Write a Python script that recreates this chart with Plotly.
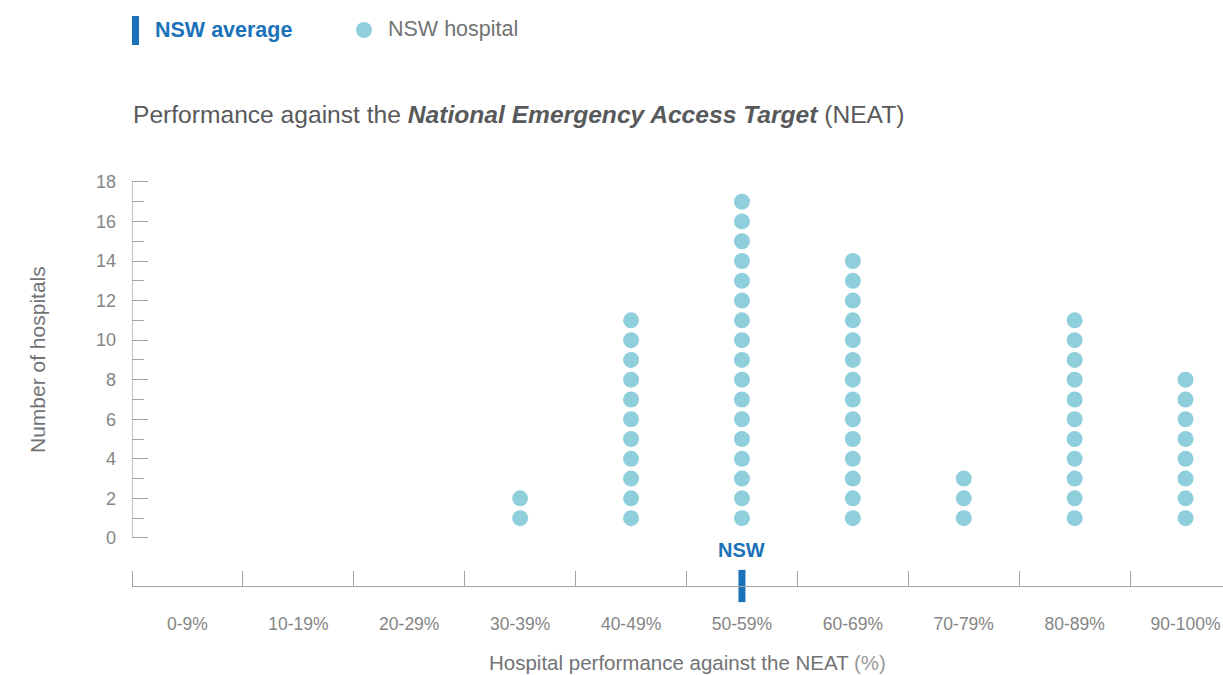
import plotly.graph_objects as go

# ---- data ----
bins = ["0-9%", "10-19%", "20-29%", "30-39%", "40-49%", "50-59%",
        "60-69%", "70-79%", "80-89%", "90-100%"]
hospital_counts = [0, 0, 0, 2, 11, 17, 14, 3, 11, 8]
nsw_average_bin = "50-59%"
y_ticks = [0, 2, 4, 6, 8, 10, 12, 14, 16, 18]

# ---- style ----
FONT = "Liberation Sans, Arial, Helvetica, sans-serif"
GRAY_TXT = "#727375"
TICK_TXT = "#858585"
AXIS = "#a3a3a3"
DOT = "#8fcfdc"
BLUE = "#1b72b8"

W, H = 1223, 675
L, R, T, B = 132, 0, 172, 89
pw, ph = W - L - R, H - T - B


def px(x):
    return (x - L) / pw


def py(y):
    return (H - B - y) / ph


# expand data to dots
xs, ys = [], []
for i, c in enumerate(hospital_counts):
    for k in range(1, c + 1):
        xs.append(i)
        ys.append(k)

y_bottom = -2.43
fig = go.Figure()
fig.add_trace(go.Scatter(
    x=xs, y=ys, mode="markers",
    marker=dict(size=16, color=DOT, line=dict(width=0)),
    name="NSW hospital", showlegend=False, hoverinfo="skip"))

avg_x = bins.index(nsw_average_bin)
fig.add_trace(go.Scatter(
    x=[avg_x], y=[y_bottom], mode="markers", cliponaxis=False,
    marker=dict(symbol="line-ns", size=23, line=dict(width=7, color=BLUE)),
    name="NSW average", showlegend=False, hoverinfo="skip"))

# y-axis line (0..18)
fig.add_shape(type="line", xref="x", yref="y", x0=-0.5, x1=-0.5, y0=0, y1=18,
              line=dict(color=AXIS, width=1.3))

fig.update_xaxes(
    range=[-0.5, -0.5 + pw / 110.9],
    tickmode="array", tickvals=list(range(len(bins))), ticktext=bins,
    ticks="", showgrid=False, zeroline=False,
    showline=True, linecolor=AXIS, linewidth=1.3,
    tickfont=dict(family=FONT, size=17.5, color=TICK_TXT),
    ticklabelstandoff=22,
    minor=dict(tickmode="array", tickvals=[i + 0.5 for i in range(-1, 9)],
               ticks="inside", ticklen=15, tickcolor=AXIS, tickwidth=1.3,
               showgrid=False),
)
fig.update_yaxes(
    range=[y_bottom, 18.5],
    tickmode="array", tickvals=y_ticks, ticktext=[str(v) for v in y_ticks],
    ticks="inside", ticklen=16, tickcolor=AXIS, tickwidth=1.3,
    showgrid=False, zeroline=False, showline=False,
    tickfont=dict(family=FONT, size=18, color=TICK_TXT),
    ticklabelstandoff=15,
    minor=dict(tickmode="array", tickvals=list(range(1, 18, 2)),
               ticks="inside", ticklen=12, tickcolor=AXIS, tickwidth=1.3,
               showgrid=False),
)

ann = []
# NSW label above average marker
ann.append(dict(x=avg_x, y=-0.6, xref="x", yref="y", text="<b>NSW</b>",
                xanchor="center", yanchor="middle",
                showarrow=False, font=dict(family=FONT, size=20, color=BLUE)))
# title
ann.append(dict(x=px(131), y=py(114), xref="paper", yref="paper", xanchor="left",
                yanchor="middle", showarrow=False,
                text="Performance against the <b><i>National Emergency Access Target</i></b> (NEAT)",
                font=dict(family=FONT, size=24.6, color="#58595b")))
# y title
ann.append(dict(x=px(37), y=py(360), xref="paper", yref="paper", textangle=-90,
                xanchor="center", yanchor="middle",
                showarrow=False, text="Number of hospitals",
                font=dict(family=FONT, size=21, color=GRAY_TXT)))
# x title
ann.append(dict(x=px(687), y=py(662), xref="paper", yref="paper", showarrow=False,
                xanchor="center", yanchor="middle",
                text="Hospital performance against the NEAT <span style='color:#9a9a9a'>(%)</span>",
                font=dict(family=FONT, size=20.5, color=GRAY_TXT)))
# legend texts
ann.append(dict(x=px(153), y=py(30), xref="paper", yref="paper", xanchor="left",
                yanchor="middle",
                showarrow=False, text="<b>NSW average</b>",
                font=dict(family=FONT, size=21.5, color=BLUE)))
ann.append(dict(x=px(386), y=py(29), xref="paper", yref="paper", xanchor="left",
                yanchor="middle",
                showarrow=False, text="NSW hospital",
                font=dict(family=FONT, size=21.5, color=GRAY_TXT)))

shapes = [
    dict(type="rect", xref="paper", yref="paper", x0=px(132), x1=px(139),
         y0=py(45), y1=py(16), fillcolor=BLUE, line=dict(width=0)),
    dict(type="circle", xref="paper", yref="paper", x0=px(356), x1=px(372),
         y0=py(38), y1=py(22), fillcolor=DOT, line=dict(width=0)),
]
for s in shapes:
    fig.add_shape(**s)

fig.update_layout(
    width=W, height=H,
    margin=dict(l=L, r=R, t=T, b=B),
    paper_bgcolor="white", plot_bgcolor="white",
    annotations=ann, showlegend=False,
    font=dict(family=FONT, color=GRAY_TXT),
)

fig.write_html("out.html", config={"displayModeBar": False},
               post_script="document.body.style.margin='0';document.body.style.overflow='hidden';")
